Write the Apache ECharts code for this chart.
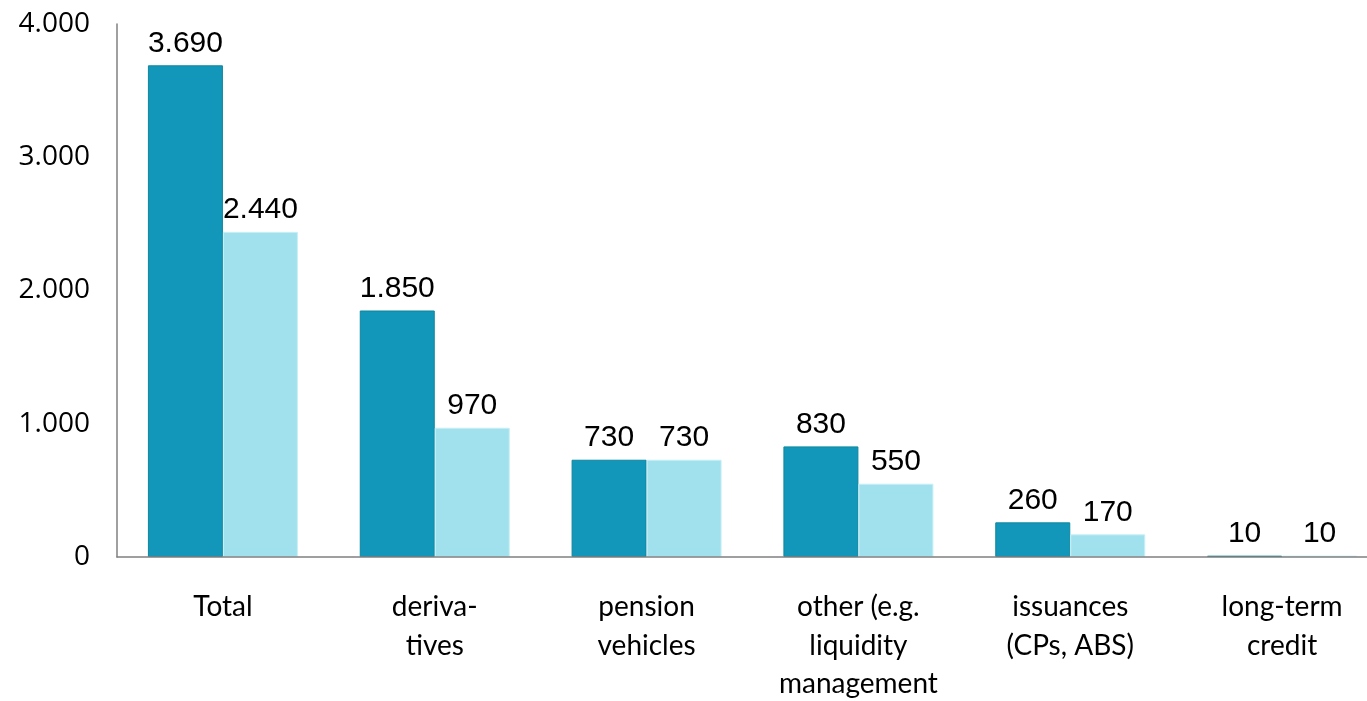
<!DOCTYPE html>
<html>
<head>
<meta charset="utf-8">
<script src="https://cdn.jsdelivr.net/npm/echarts@6/dist/echarts.min.js"></script>
<style>
html,body{margin:0;padding:0;background:#fff;overflow:hidden;}
#chart{width:1367px;height:701px;}
</style>
</head>
<body>
<div id="chart"></div>
<script>
const categories = ["Total", "deriva-\ntives", "pension\nvehicles", "other (e.g.\nliquidity\nmanagement", "issuances\n(CPs, ABS)", "long-term\ncredit"];
const seriesA = [3690, 1850, 730, 830, 260, 10];
const seriesB = [2440, 970, 730, 550, 170, 10];
const yTicks = { min: 0, max: 4000, interval: 1000 };

function fmt(v) {
  return String(v).replace(/\B(?=(\d{3})+(?!\d))/g, '.');
}

const chart = echarts.init(document.getElementById('chart'), null, { renderer: 'canvas' });
const labelStyle = {
  show: true,
  position: 'top',
  distance: 7,
  color: '#000',
  fontFamily: '"Liberation Sans", Arial, sans-serif',
  fontSize: 30,
  formatter: p => fmt(p.value)
};
chart.setOption({
  animation: false,
  backgroundColor: '#fff',
  grid: { left: 117, top: 24, width: 1271, height: 533, containLabel: false, outerBoundsMode: 'none' },
  xAxis: {
    type: 'category',
    data: categories,
    z: 5,
    axisTick: { show: false },
    axisLine: { lineStyle: { color: '#808080', width: 1.5 } },
    axisLabel: {
      interval: 0,
      margin: 31,
      color: '#000',
      fontFamily: 'Lato, "Open Sans", sans-serif',
      fontSize: 28,
      lineHeight: 38.5
    }
  },
  yAxis: {
    type: 'value',
    min: yTicks.min,
    max: yTicks.max,
    interval: yTicks.interval,
    z: 5,
    splitLine: { show: false },
    axisTick: { show: false },
    axisLine: { show: true, lineStyle: { color: '#808080', width: 1.5 } },
    axisLabel: {
      margin: 27,
      color: '#000',
      fontFamily: '"Open Sans", sans-serif',
      fontSize: 28,
      padding: [4, 0, 0, 0],
      formatter: v => fmt(v)
    }
  },
  series: [
    {
      type: 'bar',
      data: seriesA,
      barWidth: 75,
      barGap: '0%',
      itemStyle: { color: '#1297BA', borderColor: '#0E879E', borderWidth: 1 },
      label: labelStyle
    },
    {
      type: 'bar',
      data: seriesB,
      barWidth: 75,
      itemStyle: { color: '#A0E1ED', borderColor: '#C8EFF6', borderWidth: 1 },
      label: labelStyle
    }
  ]
});
</script>
</body>
</html>
